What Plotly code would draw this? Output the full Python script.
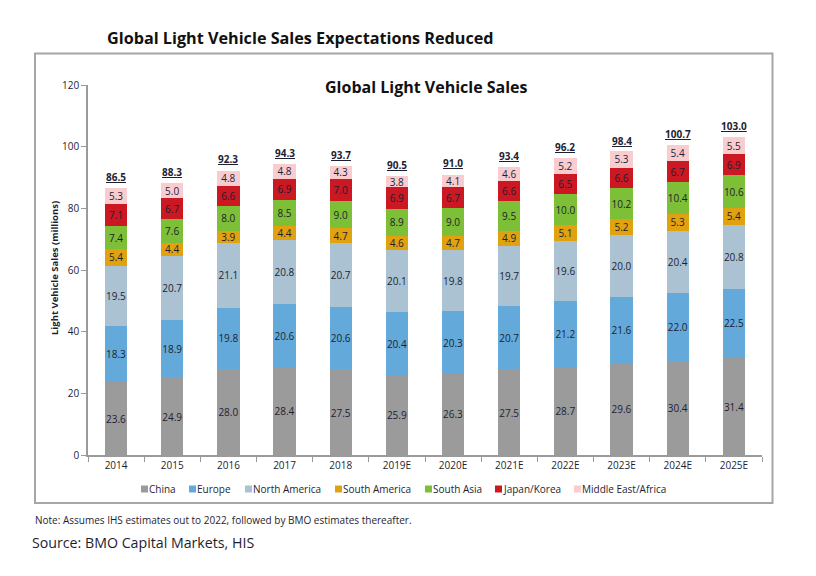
import plotly.graph_objects as go

years = ["2014", "2015", "2016", "2017", "2018", "2019E", "2020E", "2021E", "2022E", "2023E", "2024E", "2025E"]
china = [23.6, 24.9, 28.0, 28.4, 27.5, 25.9, 26.3, 27.5, 28.7, 29.6, 30.4, 31.4]
europe = [18.3, 18.9, 19.8, 20.6, 20.6, 20.4, 20.3, 20.7, 21.2, 21.6, 22.0, 22.5]
north_america = [19.5, 20.7, 21.1, 20.8, 20.7, 20.1, 19.8, 19.7, 19.6, 20.0, 20.4, 20.8]
south_america = [5.4, 4.4, 3.9, 4.4, 4.7, 4.6, 4.7, 4.9, 5.1, 5.2, 5.3, 5.4]
south_asia = [7.4, 7.6, 8.0, 8.5, 9.0, 8.9, 9.0, 9.5, 10.0, 10.2, 10.4, 10.6]
japan_korea = [7.1, 6.7, 6.6, 6.9, 7.0, 6.9, 6.7, 6.6, 6.5, 6.6, 6.7, 6.9]
me_africa = [5.3, 5.0, 4.8, 4.8, 4.3, 3.8, 4.1, 4.6, 5.2, 5.3, 5.4, 5.5]
totals = [86.5, 88.3, 92.3, 94.3, 93.7, 90.5, 91.0, 93.4, 96.2, 98.4, 100.7, 103.0]

series_names = ["China", "Europe", "North America", "South America", "South Asia", "Japan/Korea", "Middle East/Africa"]
series_values = [china, europe, north_america, south_america, south_asia, japan_korea, me_africa]
series_colors = ["#9B9B9B", "#63A9D9", "#AAC2D2", "#E0A20E", "#7DBF36", "#CC1822", "#F9CDD0"]

FONT = "Open Sans"
TXT = "#1E1E32"
W, H = 816, 576
PL, PR, PT, PB = 88, 762, 85, 455  # plot area in pixels


def px_x(p):
    return (p - PL) / (PR - PL)


def px_y(p):
    return (PB - p) / (PB - PT)


fig = go.Figure()
for name, vals, col in zip(series_names, series_values, series_colors):
    fig.add_trace(go.Bar(
        name=name, x=years, y=vals, marker=dict(color=col, line=dict(width=0)),
        text=[f"{v:.1f}" for v in vals], texttemplate="%{text}",
        textposition="inside", insidetextanchor="middle", textangle=0,
        textfont=dict(family=FONT, size=10, color=TXT),
        constraintext="none", cliponaxis=False, showlegend=False, hoverinfo="x+y+name",
    ))

# totals above each stacked bar (category index positions)
for i, t in enumerate(totals):
    fig.add_annotation(x=i, y=t, xref="x", yref="y", text=f"<b><u>{t:.1f}</u></b>",
                       showarrow=False, yanchor="middle", yshift=11,
                       font=dict(family=FONT, size=10, color=TXT))

# outer frame
fig.add_shape(type="rect", xref="paper", yref="paper", x0=px_x(35), x1=px_x(772.5), y0=px_y(503), y1=px_y(53.5),
              line=dict(color="#A6A6A6", width=2), fillcolor="rgba(0,0,0,0)", layer="below")

# legend (drawn manually to match compact layout)
legend_px = [141, 189, 245, 335, 425, 495, 574]
for name, col, lx in zip(series_names, series_colors, legend_px):
    fig.add_shape(type="rect", xref="paper", yref="paper",
                  x0=px_x(lx), x1=px_x(lx + 7), y0=px_y(492.5), y1=px_y(485.5),
                  line=dict(width=0), fillcolor=col)
    fig.add_annotation(xref="paper", yref="paper", x=px_x(lx + 6), y=px_y(489), text=name,
                       showarrow=False, xanchor="left", yanchor="middle",
                       font=dict(family=FONT, size=10, color=TXT))

fig.add_annotation(xref="paper", yref="paper", x=px_x(54), y=px_y(268),
                   text="<b>Light Vehicle Sales (millions)</b>", showarrow=False, textangle=-90,
                   font=dict(family=FONT, size=9.5, color=TXT), xanchor="center", yanchor="middle")
fig.add_annotation(xref="paper", yref="paper", x=px_x(300), y=px_y(38),
                   text="<b>Global Light Vehicle Sales Expectations Reduced</b>", showarrow=False,
                   font=dict(family=FONT, size=16.2, color="#111111"), xanchor="center", yanchor="middle")
fig.add_annotation(xref="paper", yref="paper", x=px_x(426), y=px_y(87),
                   text="<b>Global Light Vehicle Sales</b>", showarrow=False,
                   font=dict(family=FONT, size=16, color="#111111"), xanchor="center", yanchor="middle")
fig.add_annotation(xref="paper", yref="paper", x=px_x(33), y=px_y(520),
                   text="Note: Assumes IHS estimates out to 2022, followed by BMO estimates thereafter.",
                   showarrow=False, font=dict(family=FONT, size=10, color=TXT),
                   xanchor="left", yanchor="middle")
fig.add_annotation(xref="paper", yref="paper", x=px_x(30), y=px_y(542),
                   text="Source: BMO Capital Markets, HIS",
                   showarrow=False, font=dict(family=FONT, size=14.2, color=TXT),
                   xanchor="left", yanchor="middle")

fig.update_layout(
    width=W, height=H,
    margin=dict(l=PL, r=W - PR, t=PT, b=H - PB, autoexpand=False),
    paper_bgcolor="white", plot_bgcolor="white",
    barmode="stack", bargap=0.6,
    showlegend=False,
    uniformtext=dict(mode="show", minsize=10),
    font=dict(family=FONT, color=TXT),
    xaxis=dict(type="category", showline=True, linecolor="#9A9A9A", linewidth=1.5, ticks="outside", ticklen=5,
               tickcolor="#9A9A9A", tickson="boundaries", tickfont=dict(family=FONT, size=10, color=TXT),
               showgrid=False, zeroline=False, tickangle=0),
    yaxis=dict(range=[0, 120], dtick=20, showline=True, linecolor="#9A9A9A", linewidth=1.5,
               ticks="outside", ticklen=5, tickcolor="#9A9A9A", showgrid=False, zeroline=False,
               tickfont=dict(family=FONT, size=10, color=TXT)),
)

fig.write_html("out.html", config={"displayModeBar": False},
               post_script="document.body.style.margin='0';")
